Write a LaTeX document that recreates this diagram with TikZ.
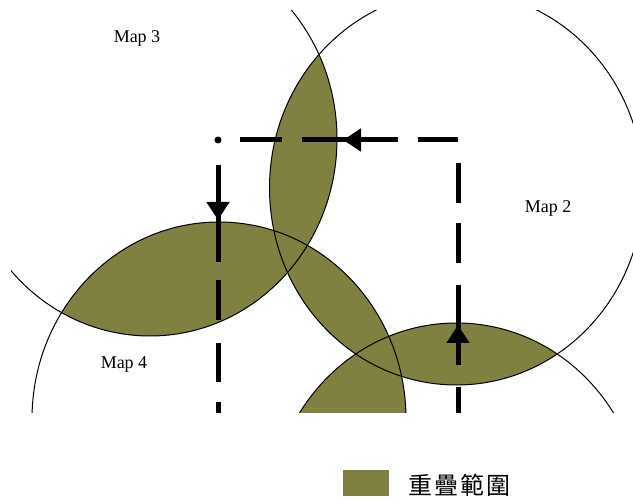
\documentclass[tikz,border=0pt]{standalone}
\usepackage{fontspec}
\setmainfont{Liberation Serif}
\newfontfamily\cjk{Noto Sans CJK TC}
\usepackage{xcolor}
\definecolor{overlap}{RGB}{128,128,64}
\usepackage{tikz}
\usetikzlibrary{arrows.meta, calc, positioning}

\begin{document}
\begin{tikzpicture}[x=0.5pt, y=-0.5pt, >={Triangle[length=9pt, width=11pt]},
    mapsize/.style={x radius=93.5pt, y radius=98.5pt},
    route/.style={line width=2.5pt},
    maplabel/.style={font=\fontsize{9}{10}\selectfont, inner sep=0pt}]
  \useasboundingbox (0,0) rectangle (633,501);
  % 四張地圖的中心
  \coordinate (m1) at (456.5,520);
  \coordinate (m2) at (456.5,188);
  \coordinate (m3) at (150,139);
  \coordinate (m4) at (219,419);
  \begin{scope}
    \clip (11,11) rectangle (634,413);
    % 重疊範圍
    \foreach \a/\b in {m3/m2, m3/m4, m2/m4, m2/m1, m4/m1} {
      \begin{scope}
        \clip (\a) circle[mapsize];
        \fill[overlap] (\b) circle[mapsize];
      \end{scope}
    }
    \foreach \m in {m1, m2, m3, m4}
      \draw[line width=0.5pt] (\m) circle[mapsize];
    % 路徑
    \coordinate (corner) at (218,140);
    \coordinate (turn) at (458,140);
    \coordinate (endL) at (218,413);
    \coordinate (endR) at (458,413);
    \draw[route, dash pattern=on 20pt off 10pt on 48pt off 10pt on 21pt off 11pt] (turn) -- (corner);
    \draw[route, dash pattern=on 0pt off 12.5pt on 48.5pt off 9pt on 20pt off 11.5pt on 19.5pt off 10pt on 20pt off 10pt] (corner) -- (endL);
    \draw[route, dash pattern=on 0pt off 11.5pt on 20pt off 10pt on 20pt off 11pt on 40pt off 11pt on 20pt off 10pt] (turn) -- (endR);
    \fill (corner) circle (1.75pt);
    \draw[route, ->] ($(turn)+(-60,0)$) -- ($(turn)+(-115,0)$);
    \draw[route, ->] ($(corner)+(0,25)$) -- ($(corner)+(0,80)$);
    \draw[route, ->] ($(endR)+(0,-48)$) -- ($(endR)+(0,-88)$);
  \end{scope}
  \node[maplabel] (lbl3) at (137,38) {Map 3};
  \node[maplabel] (lbl2) at (548,208) {Map 2};
  \node[maplabel] (lbl4) at (124,364) {Map 4};
  % 圖例
  \node[fill=overlap, minimum width=23pt, minimum height=13pt, inner sep=0pt] (key) at (366,483) {};
  \node[right=9.5pt of key, yshift=-1pt, inner sep=0pt, font=\cjk\fontsize{12}{12}\selectfont] (keytext) {重\hspace{1pt}疊\hspace{1pt}範\hspace{1pt}圍};
\end{tikzpicture}
\end{document}
